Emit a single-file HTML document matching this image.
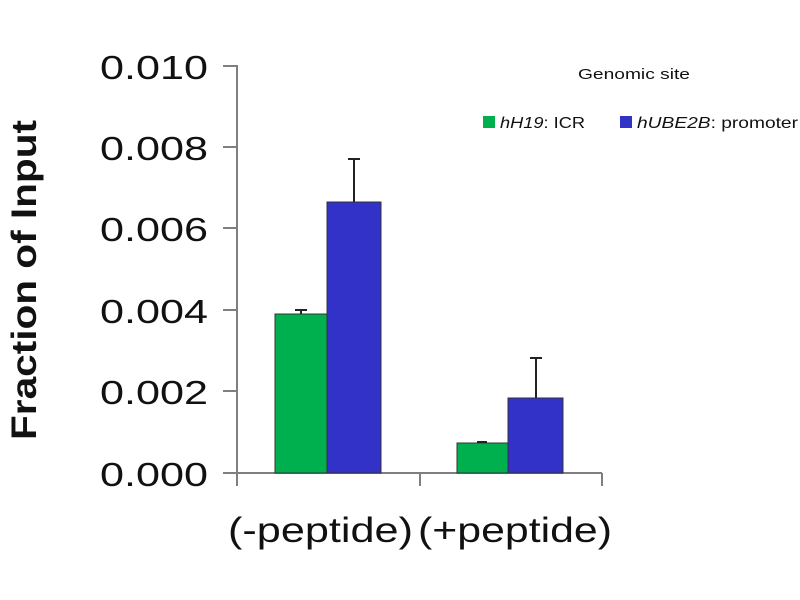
<!DOCTYPE html>
<html><head><style>body{margin:0;background:#fff}svg{display:block}</style></head><body>
<svg width="800" height="600" xmlns="http://www.w3.org/2000/svg" font-family="Liberation Sans, sans-serif">
<rect width="800" height="600" fill="#fff"/>
<g stroke="#7f7f7f" stroke-width="2" fill="none">
<line x1="237" y1="65" x2="237" y2="486"/>
<line x1="223" y1="473" x2="602" y2="473"/>
<line x1="223" y1="66" x2="237" y2="66"/>
<line x1="223" y1="147" x2="237" y2="147"/>
<line x1="223" y1="228" x2="237" y2="228"/>
<line x1="223" y1="310" x2="237" y2="310"/>
<line x1="223" y1="391" x2="237" y2="391"/>
<line x1="420" y1="473" x2="420" y2="486"/>
<line x1="602" y1="473" x2="602" y2="486"/>
</g>
<g font-size="33" fill="#111" lengthAdjust="spacingAndGlyphs">
<text x="100" y="79" textLength="108" lengthAdjust="spacingAndGlyphs">0.010</text>
<text x="100" y="160" textLength="108" lengthAdjust="spacingAndGlyphs">0.008</text>
<text x="100" y="241" textLength="108" lengthAdjust="spacingAndGlyphs">0.006</text>
<text x="100" y="323" textLength="108" lengthAdjust="spacingAndGlyphs">0.004</text>
<text x="100" y="404" textLength="108" lengthAdjust="spacingAndGlyphs">0.002</text>
<text x="100" y="486" textLength="108" lengthAdjust="spacingAndGlyphs">0.000</text>
</g>
<text transform="translate(36,440) rotate(-90)" font-size="35" font-weight="bold" fill="#111" textLength="320" lengthAdjust="spacingAndGlyphs">Fraction of  Input</text>
<g stroke="#333" stroke-width="1">
<rect x="275" y="314" width="52" height="159" fill="#00b04f"/>
<rect x="327" y="202" width="54" height="271" fill="#3232c8"/>
<rect x="457" y="443" width="51" height="30" fill="#00b04f"/>
<rect x="508" y="398" width="55" height="75" fill="#3232c8"/>
</g>
<g stroke="#222" stroke-width="2">
<line x1="301" y1="310" x2="301" y2="314"/><line x1="295" y1="310" x2="307" y2="310"/>
<line x1="354" y1="159" x2="354" y2="202"/><line x1="348" y1="159" x2="360" y2="159"/>
<line x1="482" y1="442" x2="482" y2="443"/><line x1="477" y1="442" x2="487" y2="442"/>
<line x1="536" y1="358" x2="536" y2="398"/><line x1="530" y1="358" x2="542" y2="358"/>
</g>
<g font-size="35" fill="#111">
<text x="228" y="542" textLength="185" lengthAdjust="spacingAndGlyphs">(-peptide)</text>
<text x="418" y="542" textLength="194" lengthAdjust="spacingAndGlyphs">(+peptide)</text>
</g>
<text x="578" y="79" font-size="15" fill="#111" textLength="112" lengthAdjust="spacingAndGlyphs">Genomic site</text>
<rect x="483" y="116" width="12" height="12" fill="#00b04f"/>
<text x="500" y="128" font-size="16" fill="#111" textLength="85" lengthAdjust="spacingAndGlyphs"><tspan font-style="italic">hH19</tspan>: ICR</text>
<rect x="620" y="116" width="12" height="12" fill="#3232c8"/>
<text x="637" y="128" font-size="16" fill="#111" textLength="161" lengthAdjust="spacingAndGlyphs"><tspan font-style="italic">hUBE2B</tspan>: promoter</text>
</svg>
</body></html>
